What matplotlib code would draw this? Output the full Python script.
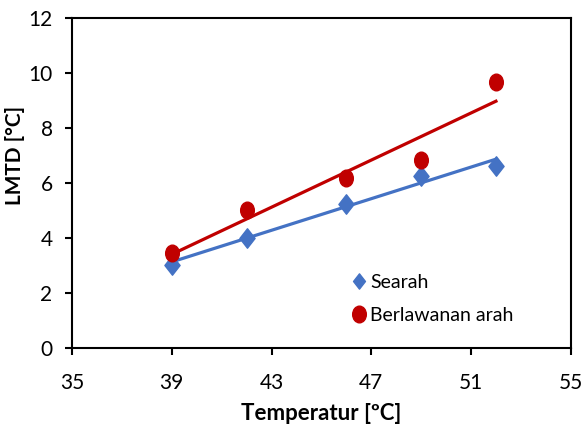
import numpy as np
import matplotlib
matplotlib.use("Agg")
import matplotlib.pyplot as plt
from matplotlib.lines import Line2D
from matplotlib.path import Path
from matplotlib.transforms import Affine2D

plt.rcParams['font.family'] = ['Lato', 'DejaVu Sans']

temperature = [39, 42, 46, 49, 52]
searah = [3.02, 4.0, 5.24, 6.25, 6.62]
berlawanan = [3.45, 5.02, 6.18, 6.84, 9.67]
series_names = ["Searah", "Berlawanan arah"]
x_ticks = [35, 39, 43, 47, 51, 55]
y_ticks = [0, 2, 4, 6, 8, 10, 12]

blue = "#4472C4"
red = "#C00000"

# tall diamond and slightly tall ellipse marker shapes
diamond = Path([(0, 1), (0.78, 0), (0, -1), (-0.78, 0), (0, 1)],
               [Path.MOVETO, Path.LINETO, Path.LINETO, Path.LINETO, Path.CLOSEPOLY])
ellipse = Affine2D().scale(0.82, 1.0).transform_path(Path.unit_circle())

fig = plt.figure(figsize=(5.83, 4.28), dpi=100)
ax = fig.add_axes([0.1235, 0.187, 0.8555, 0.771])

x = np.array(temperature, dtype=float)
for ys, col, mk, ms in [(searah, blue, diamond, 14), (berlawanan, red, ellipse, 12)]:
    ys = np.array(ys)
    p = np.polyfit(x, ys, 1)
    xl = np.array([x.min(), x.max()])
    ax.plot(xl, np.polyval(p, xl), color=col, lw=2.3, zorder=2)
    ax.plot(x, ys, linestyle="none", marker=mk, ms=ms, color=col, zorder=3)

ax.set_xlim(35, 55)
ax.set_ylim(0, 12)
ax.set_xticks(x_ticks)
ax.set_yticks(y_ticks)
ax.tick_params(direction="out", length=5, width=1.5, labelsize=15)
ax.tick_params(axis="x", pad=13)
ax.tick_params(axis="y", pad=9)
for s in ax.spines.values():
    s.set_linewidth(1.5)
    s.set_color("black")

ax.set_xlabel("Temperatur [ºC]", fontsize=16, fontweight="bold", labelpad=7)
ax.set_ylabel("LMTD [°C]", fontsize=15, fontweight="bold")
ax.yaxis.set_label_coords(-0.094, 0.582)

handles = [Line2D([], [], linestyle="none", marker=diamond, ms=11, color=blue),
           Line2D([], [], linestyle="none", marker=ellipse, ms=12, color=red)]
ax.legend(handles, series_names, frameon=False, fontsize=14,
          loc="upper left", bbox_to_anchor=(0.52, 0.278),
          handletextpad=0.1, handlelength=1.0, labelspacing=0.85)

fig.savefig("out.png", dpi=100)
